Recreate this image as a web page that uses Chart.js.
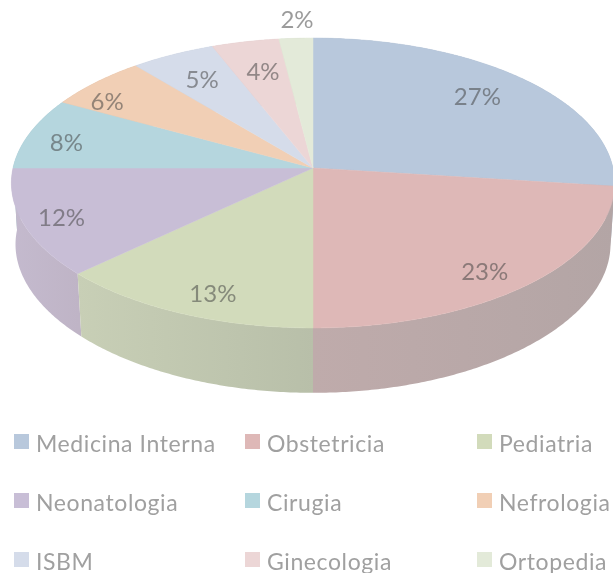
<!DOCTYPE html>
<html lang="es">
<head>
    <meta charset="UTF-8">
    <title>Pie 3D</title>
    <style>
        html, body { margin: 0; padding: 0; background: #ffffff; }
        canvas { display: block; }
    </style>
</head>
<body>
<canvas id="myChart" width="613" height="573"></canvas>

<script src="https://cdn.jsdelivr.net/npm/chart.js"></script>
<script>
    const categories = ['Medicina Interna', 'Obstetricia', 'Pediatria', 'Neonatologia', 'Cirugia', 'Nefrologia', 'ISBM', 'Ginecologia', 'Ortopedia'];
    const values = [27, 23, 13, 12, 8, 6, 5, 4, 2];

    const faceColors = ['#b8c8dc', '#deb8b7', '#d2dbbb', '#c8bed6', '#b5d6de', '#f1cfb5', '#d5dcea', '#ecd6d6', '#e3ead9'];
    const wallLeft = ['#a3b0c0', '#bfabab', '#c8cfb6', '#c4bace', '#a0bcc3', '#d3b69f', '#bcc2ce', '#d0bcbc', '#c8cebf'];
    const wallRight = ['#a3b0c0', '#b3a5a5', '#b8bfa9', '#bfb4c6', '#a0bcc3', '#d3b69f', '#bcc2ce', '#d0bcbc', '#c8cebf'];

    // [radial x, radial y] of each percent label, as fraction of the radius
    const labelPlace = [[.77, .79], [.805, .9], [.77, .88], [.87, .92], [.864, .71], [.935, .76], [.775, .755], [.72, .74], [.95, 1.158]];

    // perspective of the top face and of the bottom rim
    const top3d = { cx: 313, cy: 168, rx: 300, ry: 143.4, t: 0.1034, tx: 0.1034 };
    const rim3d = { cx: 313, cy: 230, rx: 296, ry: 142, t: 0.128, tx: 0.1 };

    function project(p, angle, fx, fy) {
        const u = Math.sin(angle) * fx;
        const v = -Math.cos(angle) * fy;
        return [p.cx + p.rx * u / (1 - p.tx * v), p.cy + p.ry * v / (1 - p.t * v)];
    }

    function traceArc(ctx, p, a0, a1, move) {
        const steps = Math.max(2, Math.ceil(Math.abs(a1 - a0) / 0.01));
        for (let i = 0; i <= steps; i++) {
            const q = project(p, a0 + (a1 - a0) * i / steps, 1, 1);
            if (i === 0 && move) ctx.moveTo(q[0], q[1]); else ctx.lineTo(q[0], q[1]);
        }
    }

    const pie3d = {
        id: 'pie3d',
        beforeDatasetsDraw(chart) {
            const ctx = chart.ctx;
            const arcs = chart.getDatasetMeta(0).data.map((el, i) => ({
                i, a0: el.startAngle + Math.PI / 2, a1: el.endAngle + Math.PI / 2
            }));

            // side wall, back slices first
            const order = arcs.slice().sort((a, b) => Math.cos(b.a0 / 2 + b.a1 / 2) - Math.cos(a.a0 / 2 + a.a1 / 2));
            order.forEach(s => {
                const xs = [];
                for (let k = 0; k <= 40; k++) xs.push(project(top3d, s.a0 + (s.a1 - s.a0) * k / 40, 1, 1)[0]);
                const g = ctx.createLinearGradient(Math.min(...xs), 0, Math.max(...xs) + 1, 0);
                g.addColorStop(0, wallLeft[s.i]);
                g.addColorStop(1, wallRight[s.i]);
                ctx.beginPath();
                traceArc(ctx, top3d, s.a0, s.a1, true);
                traceArc(ctx, rim3d, s.a1, s.a0, false);
                ctx.closePath();
                ctx.fillStyle = g;
                ctx.fill();
            });

            // top face
            arcs.forEach(s => {
                ctx.beginPath();
                ctx.moveTo(top3d.cx, top3d.cy);
                traceArc(ctx, top3d, s.a0, s.a1, false);
                ctx.closePath();
                ctx.fillStyle = faceColors[s.i];
                ctx.fill();
                ctx.strokeStyle = faceColors[s.i];
                ctx.lineWidth = 0.5;
                ctx.stroke();
            });

            // percent labels
            ctx.font = '24px Lato';
            ctx.textAlign = 'center';
            ctx.textBaseline = 'middle';
            ctx.fillStyle = 'rgba(64, 64, 64, 0.52)';
            arcs.forEach(s => {
                const q = project(top3d, (s.a0 + s.a1) / 2, labelPlace[s.i][0], labelPlace[s.i][1]);
                ctx.fillText(values[s.i] + '%', q[0], q[1]);
            });
            return false;
        },
        afterDraw(chart) {
            // legend in three fixed columns
            const ctx = chart.ctx;
            const colX = [14, 245, 477];
            const rowY = [442, 501, 560];
            ctx.font = '23px Lato';
            ctx.textAlign = 'left';
            ctx.textBaseline = 'middle';
            ctx.letterSpacing = '0.6px';
            categories.forEach((name, i) => {
                const x = colX[i % 3];
                const y = rowY[Math.floor(i / 3)];
                ctx.fillStyle = faceColors[i];
                ctx.fillRect(x, y - 8, 15, 15);
                ctx.fillStyle = '#a0a0a0';
                ctx.fillText(name, x + 22, y + 2.5);
            });
            ctx.letterSpacing = '0px';
        }
    };

    new Chart(document.getElementById('myChart').getContext('2d'), {
        type: 'pie',
        data: {
            labels: categories,
            datasets: [{ data: values, backgroundColor: faceColors, borderWidth: 0 }]
        },
        options: {
            responsive: false,
            animation: false,
            plugins: { legend: { display: false }, tooltip: { enabled: false } }
        },
        plugins: [pie3d]
    });
</script>
</body>
</html>
